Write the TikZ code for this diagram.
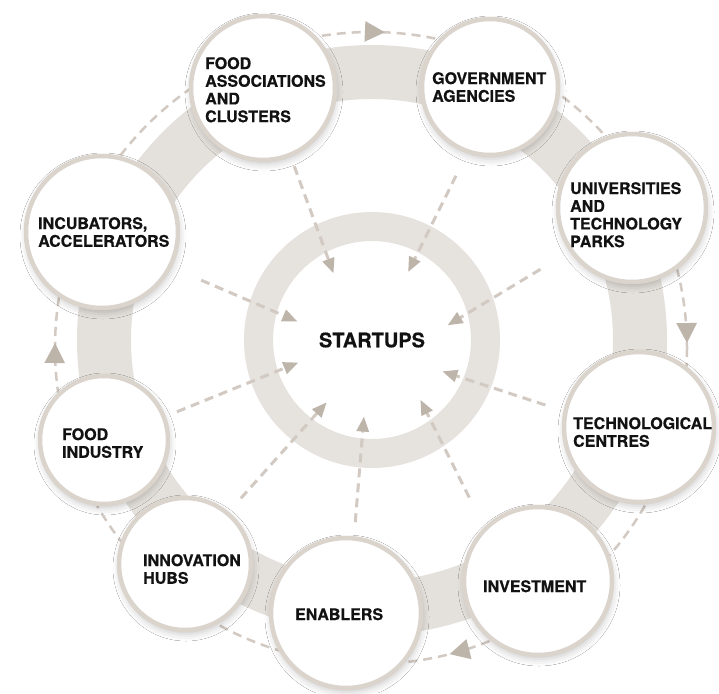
\documentclass[tikz,border=0pt]{standalone}
\usepackage{fontspec}
\setmainfont{TeX Gyre Heros}[BoldFeatures={FakeBold=0.5}]
\usetikzlibrary{arrows.meta,decorations.markings,shadows.blur}
\definecolor{bandcol}{HTML}{E4E0DB}
\definecolor{ringcol}{HTML}{E6E2DE}
\definecolor{bordercol}{HTML}{DAD4CD}
\definecolor{dashcol}{HTML}{D2CAC2}
\definecolor{tipcol}{HTML}{BDB4AA}
\definecolor{txtcol}{HTML}{121212}
\begin{document}
\begin{tikzpicture}[x=1pt,y=-1pt,
  hub/.style={circle, draw=bordercol, line width=4.5pt, fill=white, inner sep=0pt,
    blur shadow={shadow xshift=1pt, shadow yshift=-4pt, shadow blur radius=7pt, shadow opacity=22}},
  lbl/.style={anchor=north west, inner sep=0pt, align=left,
    font=\bfseries\fontsize{16}{17.7}\selectfont, text=txtcol},
  feed/.style={draw=dashcol, line width=3pt, dash pattern=on 9pt off 6pt,
    -{Triangle[length=15pt,width=12pt,color=tipcol]}},
  cyclearrow/.style={tipcol},
]
\useasboundingbox[fill=white] (0,0) rectangle (719,693);
\coordinate (C) at (372,340);
\coordinate (O) at (371,348);
% outer dashed cycle with arrowheads (clockwise)
\draw[dashcol, line width=2.5pt, dash pattern=on 9pt off 6pt,
  decoration={markings,
    mark=at position 0.210 with {\arrow[cyclearrow]{Triangle[length=20pt,width=20pt]}},
    mark=at position 0.5025 with {\arrow[cyclearrow]{Triangle[length=20pt,width=20pt]}},
    mark=at position 0.757 with {\arrow[cyclearrow]{Triangle[length=20pt,width=20pt]}},
    mark=at position 0.9975 with {\arrow[cyclearrow]{Triangle[length=20pt,width=20pt]}}},
  postaction={decorate}]
  (O) ++(0:316) arc[start angle=0, end angle=360, radius=316];
% broad band linking the actors
\draw[bandcol, line width=54pt] (C) circle[radius=268];
% actor circles
\node[hub, minimum size=144pt] (fa) at (263,88) {};
\node[hub, minimum size=136pt] (ga) at (490,87) {};
\node[hub, minimum size=148pt] (uni) at (632,208) {};
\node[hub, minimum size=150pt] (tc) at (639,427) {};
\node[hub, minimum size=148pt] (inv) at (538,581) {};
\node[hub, minimum size=150pt] (en) at (346,613) {};
\node[hub, minimum size=132pt] (ih) at (185,564) {};
\node[hub, minimum size=128pt] (fi) at (104,440) {};
\node[hub, minimum size=152pt] (inc) at (102,232) {};
% central ring and startups
\draw[ringcol, line width=29pt] (C) circle[radius=113.5];
\node[circle, minimum size=154pt, inner sep=0pt, outer sep=0pt,
  font=\bfseries\fontsize{20}{22}\selectfont, text=txtcol] (st) at (C) {STARTUPS};
% radial feeds
\draw[feed, shorten <=10pt] (fa.292.3) -- (st.120.4);
\draw[feed, shorten <=25pt] (ga.251.6) -- (st.62.4);
\draw[feed, shorten <=34pt] (uni.215.7) -- (st.11.7);
\draw[feed, shorten <=19pt] (tc.168.6) -- (st.336.8);
\draw[feed, shorten <=33pt] (inv.135.7) -- (st.309.4);
\draw[feed, shorten <=14pt] (en.84.4) -- (st.264.4);
\draw[feed, shorten <=18pt] (ih.50.6) -- (st.234.8);
\draw[feed, shorten <=12pt] (fi.21) -- (st.197.7);
\draw[feed, shorten <=32pt] (inc.333) -- (st.166.8);
% labels
\node[lbl] (tfa) at (205,57) {FOOD\\ASSOCIATIONS\\AND\\CLUSTERS};
\node[lbl] (tga) at (432,72) {GOVERNMENT\\AGENCIES};
\node[lbl] (tuni) at (570,182) {UNIVERSITIES\\AND\\TECHNOLOGY\\PARKS};
\node[lbl] (ttc) at (573,417) {TECHNOLOGICAL\\CENTRES};
\node[lbl] (tinv) at (483,580) {INVESTMENT};
\node[lbl] (ten) at (295,608) {ENABLERS};
\node[lbl] (tih) at (143,554) {INNOVATION\\HUBS};
\node[lbl] (tfi) at (62,428) {FOOD\\INDUSTRY};
\node[lbl] (tinc) at (38,217) {INCUBATORS,\\ACCELERATORS};
\end{tikzpicture}
\end{document}
